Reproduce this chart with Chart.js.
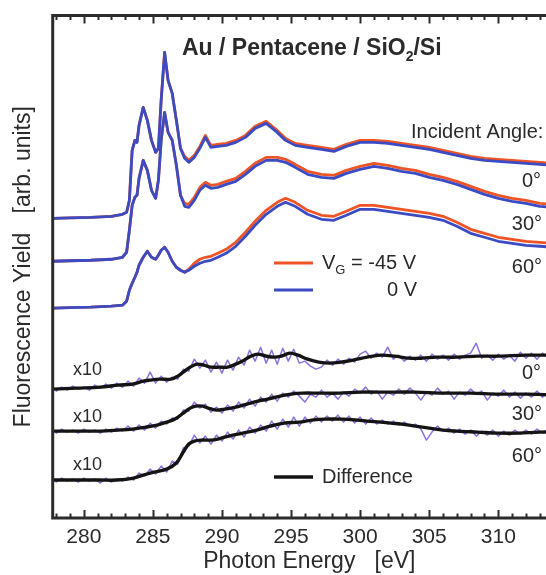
<!DOCTYPE html>
<html>
<head>
<meta charset="utf-8">
<script src="https://cdn.jsdelivr.net/npm/chart.js@4/dist/chart.umd.min.js"></script>
<style>
html,body{margin:0;padding:0;background:#fff;overflow:hidden;width:546px;height:575px;}
canvas{display:block;}
</style>
</head>
<body>
<canvas id="c" width="570" height="575" style="width:570px;height:575px"></canvas>
<script>
// ---------- DATA ----------
const xTickLabels = [280, 285, 290, 295, 300, 305, 310];

// NEXAFS spectra (arb. units), common energy grid
const specE = [277.8, 279, 280.5, 282, 282.8, 283.1, 283.3, 283.5, 283.7, 283.85,
  284.0, 284.3, 284.6, 284.9, 285.2, 285.4, 285.6, 285.85, 286.1, 286.4,
  286.7, 287.0, 287.3, 287.6, 288.0, 288.4, 288.8, 289.2, 289.7, 290.3,
  291.0, 291.7, 292.4, 293.2, 294.0, 294.6, 295.3, 296.2, 297.2, 298.1,
  299.0, 300, 301, 302, 303, 304, 305, 306, 307, 308,
  309, 310, 311, 312, 313, 314, 315];

const blue0 = [300, 300.5, 301, 302, 304, 306, 318, 368, 378, 376,
  393, 411, 398, 378, 366, 370, 418, 466, 438, 425,
  398, 370, 360, 356, 361, 370, 381, 371, 372, 373,
  376, 381, 390, 395, 386, 378, 373, 371, 369, 367,
  372, 376, 376, 375, 373, 371, 369, 366, 363, 360,
  358, 357, 356, 355, 354, 353, 352];
const red0 = [300, 300.5, 301, 302, 304, 306, 318, 368, 378, 376,
  393, 411, 398, 378, 366, 370, 418, 466, 438, 425,
  398, 370, 362, 358, 363, 372, 383, 373, 374, 375,
  378, 383, 392, 397, 388, 380, 375, 373, 371, 369,
  374, 378, 378, 377, 375, 373, 371, 368, 365, 362,
  360, 359, 358, 357, 356, 355, 354];

const blue30 = [257, 257.5, 258, 259, 261, 266, 288, 313, 321, 323,
  340, 358, 348, 328, 320, 338, 378, 406, 386, 378,
  353, 323, 312, 311, 318, 328, 333, 330, 331, 334,
  337, 344, 352, 358, 358, 356, 351, 344, 341, 340,
  345, 349, 352, 350, 347, 345, 341, 338, 334, 329,
  324, 320, 317, 315, 312, 311, 310];
const red30 = [257, 257.5, 258, 259, 261, 266, 288, 313, 321, 323,
  340, 358, 348, 328, 320, 338, 378, 406, 386, 378,
  353, 323, 315, 314, 321, 331, 336, 333, 334, 337,
  340, 347, 355, 361, 361, 359, 354, 347, 344, 343,
  348, 352, 355, 353, 350, 348, 344, 341, 337, 332,
  327, 323, 320, 318, 315, 314, 313];

const blue60 = [210, 210.5, 211, 212, 213, 217, 228, 235, 241, 246,
  253, 261, 267, 261, 259, 263, 268, 271, 266, 257,
  251, 248, 246, 248, 252, 255, 257, 258, 261, 265,
  272, 282, 293, 304, 312, 316, 312, 304, 299, 298,
  303, 309, 309, 307, 305, 303, 301, 298, 292, 285,
  281, 277, 275, 273, 272, 271, 270];
const red60 = [210, 210.5, 211, 212, 213, 217, 228, 235, 241, 246,
  253, 261, 267, 261, 259, 263, 268, 271, 266, 257,
  251, 248, 246, 249, 255, 259, 261, 262, 265, 269,
  276, 286, 297, 308, 316, 320, 316, 308, 303, 302,
  307, 313, 313, 311, 309, 307, 305, 302, 296, 289,
  285, 281, 279, 277, 276, 275, 274];

// Difference x10 : raw (purple) on a common grid
const rawE = [278.0, 278.4, 278.8, 279.2, 279.6, 280.0, 280.4, 280.8, 281.2, 281.6,
  282.0, 282.4, 282.8, 283.2, 283.6, 284.0, 284.4, 284.8, 285.2, 285.6,
  286.0, 286.4, 286.8, 287.2, 287.6, 288.0, 288.4, 288.8, 289.2, 289.6,
  290.0, 290.4, 290.8, 291.2, 291.6, 292.0, 292.4, 292.8, 293.2, 293.6,
  294.0, 294.4, 294.8, 295.2, 295.6, 296.0, 296.4, 296.8, 297.2, 297.6,
  298.0, 298.4, 298.8, 299.2, 299.6, 300.0, 300.4, 300.8, 301.2, 301.6,
  302.0, 302.4, 302.8, 303.2, 303.6, 304.0, 304.4, 304.8, 305.2, 305.6,
  306.0, 306.4, 306.8, 307.2, 307.6, 308.0, 308.4, 308.8, 309.2, 309.6,
  310.0, 310.4, 310.8, 311.2, 311.6, 312.0, 312.4, 312.8, 313.2, 313.6,
  314.0, 314.4, 314.8];
const raw0 = [127, 131, 128, 132, 129, 131, 128, 133, 130, 134,
  130, 135, 131, 137, 132, 140, 135, 146, 135, 142,
  136, 141, 139, 149, 147, 159, 150, 158, 146, 156,
  145, 158, 148, 161, 153, 168, 157, 171, 155, 168,
  154, 170, 157, 169, 155, 157, 152, 149, 151, 158,
  153, 159, 154, 160, 156, 164, 167, 160, 165, 161,
  171, 159, 163, 157, 162, 158, 163, 157, 164, 159,
  163, 158, 164, 159, 163, 165, 175, 160, 163, 158,
  164, 159, 163, 157, 166, 160, 165, 159, 165, 160,
  164, 160, 164];
const raw30 = [85, 89, 86, 88, 85, 89, 86, 88, 85, 89,
  86, 90, 87, 92, 87, 93, 88, 95, 90, 97,
  94, 100, 99, 108, 107, 116, 110, 114, 106, 111,
  105, 113, 107, 116, 110, 119, 112, 121, 116, 124,
  117, 125, 121, 127, 122, 116, 124, 121, 128, 121,
  125, 119, 126, 122, 129, 125, 131, 124, 127, 119,
  126, 123, 129, 124, 130, 125, 118, 126, 123, 130,
  124, 127, 119, 126, 123, 129, 124, 127, 118, 125,
  122, 128, 121, 126, 120, 125, 121, 127, 121, 125,
  120, 125, 121];
const raw60 = [36, 40, 37, 39, 36, 40, 37, 39, 35, 40,
  36, 39, 37, 41, 38, 45, 42, 49, 44, 52,
  46, 57, 54, 70, 72, 83, 75, 82, 74, 83,
  77, 86, 79, 88, 81, 91, 85, 93, 87, 97,
  89, 99, 91, 101, 92, 101, 95, 102, 96, 102,
  97, 103, 96, 102, 95, 101, 94, 100, 94, 98,
  94, 97, 93, 96, 92, 94, 89, 78, 86, 92,
  87, 90, 85, 89, 84, 88, 82, 87, 83, 88,
  82, 87, 83, 88, 84, 88, 84, 89, 85, 89,
  85, 88, 85];

// Difference x10 : smoothed (black)
const diffE0 = [277.74, 279.5, 281.2, 282.5, 283.5, 284.3, 284.8, 285.5, 286.3, 286.8,
  287.2, 287.7, 288.2, 288.7, 289.2, 289.8, 290.4, 291.0, 291.6, 292.1,
  292.6, 293.2, 293.8, 294.3, 294.9, 295.5, 296.2, 297.0, 297.8, 298.6,
  299.5, 300.5, 301.5, 302.5, 303.5, 304.5, 305.5, 307.0, 308.5, 310.0,
  312.0, 315.0];
const diff0 = [129, 130, 131, 133, 134, 137, 138, 139, 139, 142,
  146, 151, 154, 153, 151, 151, 151, 154, 158, 162,
  164, 162, 161, 162, 165, 163, 159, 156, 155, 156,
  158, 161, 163, 162, 160, 160, 161, 161, 162, 162,
  163, 163];
const diffE30 = [277.74, 279.5, 281.2, 282.5, 283.5, 284.5, 285.3, 286.0, 286.6, 287.2,
  287.7, 288.1, 288.6, 289.0, 289.6, 290.2, 291.0, 291.8, 292.6, 293.3,
  294.2, 295.0, 295.8, 297.0, 298.5, 300.0, 302.0, 304.0, 306.0, 308.0,
  310.0, 312.0, 315.0];
const diff30 = [87, 87, 87, 88, 89, 91, 93, 96, 99, 105,
  110, 112, 112, 110, 108, 109, 111, 114, 117, 119,
  122, 124, 125, 125, 125, 126, 126, 126, 125, 125,
  124, 124, 123];
const diffE60 = [277.74, 279.5, 281.2, 282.4, 283.6, 284.8, 286.0, 286.7, 287.2, 287.6,
  288.0, 288.5, 289.2, 289.7, 290.5, 291.5, 292.5, 293.5, 294.5, 295.6,
  296.5, 297.5, 298.7, 299.8, 300.5, 301.5, 302.2, 303.0, 304.0, 305.0,
  306.0, 307.0, 308.5, 310.0, 311.5, 313.0, 315.0];
const diff60 = [38, 38, 38, 38, 40, 45, 49, 55, 66, 74,
  77, 78, 78, 79, 82, 85, 88, 92, 95, 96,
  98, 99, 99, 98, 97, 96, 95, 94, 92, 90,
  88, 87, 86, 85, 85, 86, 86];

// ---------- STYLE ----------
const BLUE = '#3a4bc4', RED = '#ee5424', PURPLE = '#8e72d8', BLACK = '#141414', TXT = '#2a2a2a';
const FONT = '"Liberation Sans", Arial, Helvetica, sans-serif';
Chart.defaults.font.family = FONT;

const pts = (xs, ys) => xs.map((x, i) => ({x: x, y: ys[i]}));
function ds(xs, ys, color, w, tension) {
  return {data: pts(xs, ys), borderColor: color, borderWidth: w, pointRadius: 0,
    tension: tension || 0, fill: false, borderJoinStyle: 'round', borderCapStyle: 'round'};
}

// first dataset is drawn on top in Chart.js
const datasets = [
  ds(specE, blue0, BLUE, 2.8), ds(specE, blue30, BLUE, 2.8), ds(specE, blue60, BLUE, 2.8),
  ds(specE, red0, RED, 2.8), ds(specE, red30, RED, 2.8), ds(specE, red60, RED, 2.8),
  ds(diffE0, diff0, BLACK, 3.4, 0.35), ds(diffE30, diff30, BLACK, 3.4, 0.35), ds(diffE60, diff60, BLACK, 3.4, 0.35),
  ds(rawE, raw0, PURPLE, 1.5), ds(rawE, raw30, PURPLE, 1.5), ds(rawE, raw60, PURPLE, 1.5)
];

const deco = {
  id: 'deco',
  afterDraw(chart) {
    const {ctx, chartArea: a, scales: {x}} = chart;
    ctx.save();
    // frame
    ctx.strokeStyle = '#2b2b2b';
    ctx.lineWidth = 3;
    ctx.beginPath();
    ctx.moveTo(a.left, a.bottom); ctx.lineTo(a.right, a.bottom);
    ctx.moveTo(a.left, a.top); ctx.lineTo(a.right, a.top);
    ctx.moveTo(a.left, a.top - 1.5); ctx.lineTo(a.left, a.bottom + 1.5);
    ctx.stroke();
    // inward ticks on top and bottom axes
    ctx.lineWidth = 2;
    ctx.beginPath();
    for (let v = Math.ceil(x.min); v <= x.max; v++) {
      const px = Math.round(x.getPixelForValue(v)) + 0.5;
      const len = (v % 5 === 0) ? 8 : 4.5;
      ctx.moveTo(px, a.bottom); ctx.lineTo(px, a.bottom - len);
      ctx.moveTo(px, a.top); ctx.lineTo(px, a.top + len);
    }
    ctx.stroke();

    ctx.fillStyle = TXT;
    ctx.textBaseline = 'middle';
    // title with subscript
    ctx.font = 'bold 23px ' + FONT;
    let tx = 182, ty = 49;
    ctx.textAlign = 'left';
    ctx.fillText('Au / Pentacene / SiO', tx, ty);
    tx += ctx.measureText('Au / Pentacene / SiO').width;
    ctx.font = 'bold 14px ' + FONT;
    ctx.fillText('2', tx, ty + 8);
    tx += ctx.measureText('2').width;
    ctx.font = 'bold 23px ' + FONT;
    ctx.fillText('/Si', tx, ty);

    // angle labels
    ctx.font = '20px ' + FONT;
    ctx.fillText('Incident Angle:', 411, 132);
    ctx.textAlign = 'right';
    ctx.fillText('0°', 541, 181);
    ctx.fillText('30°', 542, 224);
    ctx.fillText('60°', 542, 267);
    ctx.fillText('0°', 541, 373);
    ctx.fillText('30°', 542, 414);
    ctx.fillText('60°', 542, 456);

    // x10 labels
    ctx.textAlign = 'left';
    ctx.font = '18px ' + FONT;
    ctx.fillText('x10', 73, 370);
    ctx.fillText('x10', 73, 417);
    ctx.fillText('x10', 73, 465);

    // legend
    ctx.lineWidth = 3;
    ctx.strokeStyle = RED;
    ctx.beginPath(); ctx.moveTo(274, 263); ctx.lineTo(313, 263); ctx.stroke();
    ctx.strokeStyle = BLUE;
    ctx.beginPath(); ctx.moveTo(274, 290); ctx.lineTo(313, 290); ctx.stroke();
    ctx.strokeStyle = BLACK; ctx.lineWidth = 3.5;
    ctx.beginPath(); ctx.moveTo(274, 477); ctx.lineTo(313, 477); ctx.stroke();

    ctx.font = '20px ' + FONT;
    let lx = 322;
    ctx.fillText('V', lx, 263);
    lx += ctx.measureText('V').width;
    ctx.font = '13px ' + FONT;
    ctx.fillText('G', lx, 270);
    lx += ctx.measureText('G').width;
    ctx.font = '20px ' + FONT;
    ctx.fillText(' = -45 V', lx, 263);
    ctx.textAlign = 'right';
    ctx.fillText('0 V', 417, 290);
    ctx.textAlign = 'left';
    ctx.fillText('Difference', 322, 477);
    ctx.restore();
  }
};

new Chart(document.getElementById('c'), {
  type: 'line',
  data: {datasets: datasets},
  options: {
    responsive: false,
    animation: false,
    events: [],
    layout: {padding: {left: 0, top: 15.5, right: 4, bottom: 0}},
    plugins: {legend: {display: false}, tooltip: {enabled: false}},
    scales: {
      x: {
        type: 'linear', position: 'bottom', min: 277.75, max: 314.9,
        afterBuildTicks: s => { s.ticks = xTickLabels.map(v => ({value: v})); },
        afterFit: s => { s.height = 57; },
        grid: {display: false, drawTicks: false},
        border: {display: false},
        ticks: {padding: 7, color: TXT, font: {size: 21}, maxRotation: 0, autoSkip: false},
        title: {display: true, text: 'Photon Energy   [eV]', color: TXT, font: {size: 23}, padding: 0}
      },
      y: {
        type: 'linear', min: 0, max: 503,
        afterFit: s => { s.width = 52.7; },
        grid: {display: false, drawTicks: false},
        border: {display: false},
        ticks: {display: false},
        title: {display: true, text: 'Fluorescence Yield   [arb. units]', color: TXT, font: {size: 23}, padding: {top: 10, bottom: 0}}
      }
    }
  },
  plugins: [deco]
});
</script>
</body>
</html>
